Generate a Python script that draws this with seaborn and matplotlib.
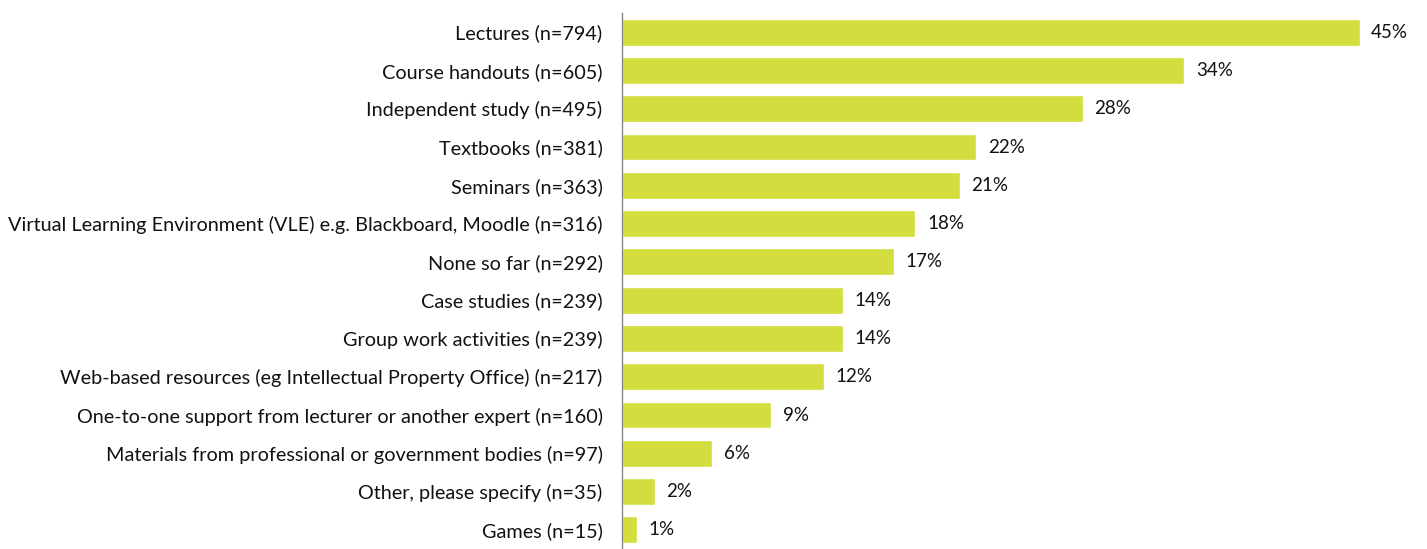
import pandas as pd
import numpy as np
import matplotlib.pyplot as plt
import seaborn as sns

categories = [
    "Lectures (n=794)",
    "Course handouts (n=605)",
    "Independent study (n=495)",
    "Textbooks (n=381)",
    "Seminars (n=363)",
    "Virtual Learning Environment (VLE) e.g. Blackboard, Moodle (n=316)",
    "None so far (n=292)",
    "Case studies (n=239)",
    "Group work activities (n=239)",
    "Web-based resources (eg Intellectual Property Office) (n=217)",
    "One-to-one support from lecturer or another expert (n=160)",
    "Materials from professional or government bodies (n=97)",
    "Other, please specify (n=35)",
    "Games (n=15)",
]
values = [45.0, 34.3, 28.1, 21.6, 20.6, 17.9, 16.6, 13.5, 13.5, 12.3, 9.1, 5.5, 2.0, 0.9]
value_labels = ["45%", "34%", "28%", "22%", "21%", "18%", "17%", "14%", "14%", "12%", "9%", "6%", "2%", "1%"]

df = pd.DataFrame({"category": categories, "value": values})

sns.set_style("white")
plt.rcParams["font.family"] = ["Lato", "DejaVu Sans"]

fig = plt.figure(figsize=(14.27, 5.49), dpi=100)
ax = fig.add_axes([622 / 1427, 0.0, 1 - 622 / 1427, 1 - 13 / 549])

sns.barplot(data=df, x="value", y="category", color="#d3dd3e", saturation=1,
            width=0.7, orient="h", ax=ax)

for i, (v, lab) in enumerate(zip(values, value_labels)):
    ax.text(v + 0.7, i, lab, va="center", ha="left", fontsize=13.5, color="#111111")

ax.set_xlim(0, 49.1)
ax.set_ylim(len(categories) - 0.5, -0.5)
ax.set_xlabel("")
ax.set_ylabel("")
ax.set_xticks([])
for s in ["top", "right", "bottom"]:
    ax.spines[s].set_visible(False)
ax.spines["left"].set_color("#888888")
ax.spines["left"].set_linewidth(1)
ax.tick_params(axis="y", which="major", length=0, labelsize=14.3, pad=14, labelcolor="#111111")
ax.set_yticks(np.arange(-0.5, len(categories), 1), minor=True)
ax.tick_params(axis="y", which="minor", length=5, color="#888888", width=1)

fig.savefig("out.png", dpi=100)
